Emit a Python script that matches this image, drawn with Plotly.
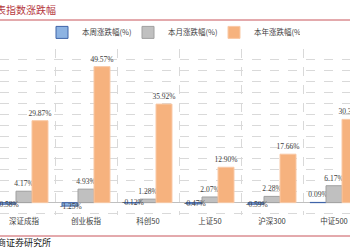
import plotly.graph_objects as go

categories = ["深证成指", "创业板指", "科创50", "上证50", "沪深300", "中证500"]
week = [-0.58, -1.25, -0.12, -0.47, -0.59, 0.09]
month = [4.17, 4.93, 1.28, 2.07, 2.28, 6.17]
year = [29.87, 49.57, 35.92, 12.90, 17.66, 30.35]
series_names = ["本周涨跌幅(%)", "本月涨跌幅(%)", "本年涨跌幅(%)"]

CJK = "Noto Sans CJK SC"
NUM = "Liberation Serif"
LBL = dict(family=NUM, size=7.5, color="#404040")

fig = go.Figure()
fig.add_bar(x=categories, y=week, name=series_names[0],
            marker=dict(color="#8DB3E2", line=dict(color="#3E64A8", width=1)),
            text=[f"{v:.2f}%" if v >= 0 else "" for v in week], textposition="outside",
            textfont=LBL, cliponaxis=False, constraintext="none")
fig.add_bar(x=categories, y=month, name=series_names[1],
            marker=dict(color="#C0C0C0", line=dict(color="#A0A0A0", width=1)),
            text=[f"{v:.2f}%" for v in month], textposition="outside",
            textfont=LBL, cliponaxis=False, constraintext="none")
fig.add_bar(x=categories, y=year, name=series_names[2],
            marker=dict(color="#F6B27E", line=dict(color="#F9C9A6", width=1)),
            text=[f"{v:.2f}%" for v in year], textposition="outside",
            textfont=LBL, cliponaxis=False, constraintext="none")

annotations = [
    dict(text="表指数涨跌幅", xref="paper", yref="paper", x=-0.017, xanchor="left",
         y=1 + 39/166, yanchor="middle", showarrow=False,
         font=dict(family=CJK, size=10, color="#B5373D")),
    dict(text="商证券研究所", xref="paper", yref="paper", x=-0.015, xanchor="left",
         y=-28/166, yanchor="middle", showarrow=False,
         font=dict(family=CJK, size=9, color="#202020")),
]
for c, v in zip(categories, week):
    if v < 0:
        annotations.append(dict(text=f"{v:.2f}%", x=c, y=v, xref="x", yref="y",
                                xshift=-15.5, yanchor="middle", showarrow=False,
                                font=LBL))

fig.update_layout(
    width=350, height=250,
    margin=dict(l=0, r=0, t=49, b=35),
    paper_bgcolor="white", plot_bgcolor="white",
    barmode="group", bargap=0.226, bargroupgap=0,
    showlegend=True,
    legend=dict(orientation="h", x=0.12, xanchor="left", y=1.10, yanchor="middle",
                font=dict(family=CJK, size=7.5, color="#404040"),
                bgcolor="rgba(0,0,0,0)", itemwidth=30, traceorder="normal",
                entrywidth=41, entrywidthmode="pixels"),
    xaxis=dict(range=[-0.387, 5.258], tickson="boundaries", showgrid=True,
               gridcolor="#D9D9D9", griddash="dash", gridwidth=1,
               ticks="", showline=False, zeroline=False,
               tickfont=dict(family=CJK, size=7.5, color="#404040")),
    yaxis=dict(range=[-4.5, 56], dtick=4, tick0=0, showgrid=True,
               gridcolor="#D9D9D9", griddash="dash", gridwidth=1,
               showticklabels=False, ticks="", showline=False,
               zeroline=True, zerolinecolor="#BFBFBF", zerolinewidth=1),
    shapes=[
        dict(type="line", xref="paper", yref="paper", x0=0, x1=1,
             y0=1 + 29/166, y1=1 + 29/166, line=dict(color="#C8555A", width=1)),
        dict(type="line", xref="paper", yref="paper", x0=0, x1=1,
             y0=-21/166, y1=-21/166, line=dict(color="#C8555A", width=1)),
    ],
    annotations=annotations,
)

fig.write_html("out.html")
